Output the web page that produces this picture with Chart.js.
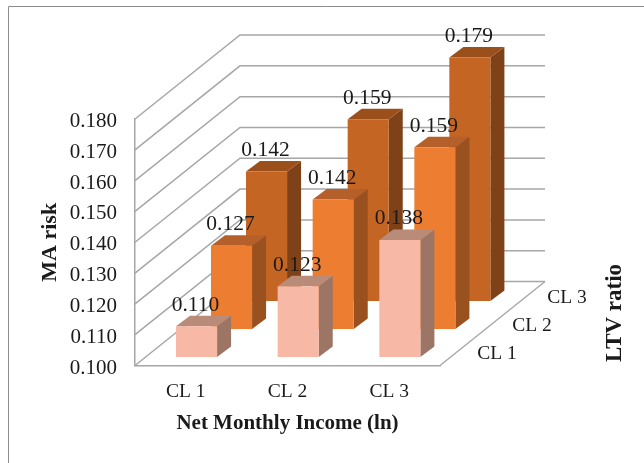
<!DOCTYPE html>
<html>
<head>
<meta charset="utf-8">
<style>html,body{margin:0;padding:0;background:#fff}canvas{display:block}</style>
<script src="https://cdn.jsdelivr.net/npm/chart.js@4/dist/chart.umd.js"></script>
</head>
<body>
<canvas id="c" width="644" height="463"></canvas>
<script>
// Mean MA risk by net monthly income class (x) and LTV ratio class (depth)
const incomeClasses = ['CL 1', 'CL 2', 'CL 3'];
const ltvClasses = ['CL 1', 'CL 2', 'CL 3'];
const ltvCl1 = [0.110, 0.123, 0.138];
const ltvCl2 = [0.127, 0.142, 0.159];
const ltvCl3 = [0.142, 0.159, 0.179];

const serif = '"Liberation Serif", "Times New Roman", serif';
const ink = '#1a1a1a';
const gridGray = '#a6a6a6';

// Oblique projection: how far each depth row shifts and how deep a bar is
const row = { x0: 10.7, y0: -8.5, dx: 35, dy: -28 };
const box = { dx: 14, dy: -10.5 };
const wall = { dx: 105, dy: -84 };
const rowShift = i => ({ x: row.x0 + row.dx * i, y: row.y0 + row.dy * i });

const faces = [
  { front: '#f7b9a6', side: '#9d7565', top: '#b98c7a' },
  { front: '#ed7d31', side: '#9a5120', top: '#b5602a' },
  { front: '#c46524', side: '#7e4118', top: '#9b501c' }
];

const line = (ctx, pts) => {
  ctx.beginPath();
  pts.forEach((p, i) => i ? ctx.lineTo(p[0], p[1]) : ctx.moveTo(p[0], p[1]));
  ctx.stroke();
};
const poly = (ctx, pts, fill) => {
  ctx.fillStyle = fill;
  ctx.beginPath();
  pts.forEach((p, i) => i ? ctx.lineTo(p[0], p[1]) : ctx.moveTo(p[0], p[1]));
  ctx.closePath();
  ctx.fill();
};

const depthChart = {
  id: 'depthChart',
  beforeDraw(chart) {
    const { ctx } = chart;
    // Outer frame, open on the right and at the bottom
    ctx.save();
    ctx.strokeStyle = '#8c8c8c';
    ctx.lineWidth = 1;
    line(ctx, [[8.5, 463], [8.5, 6.5], [644, 6.5]]);
    ctx.restore();
  },
  beforeDatasetsDraw(chart) {
    const { ctx, scales: { x, y } } = chart;
    ctx.save();
    ctx.strokeStyle = gridGray;
    ctx.lineWidth = 1.5;
    // Wall grid: each tick runs back along the side wall, then across the rear wall
    y.ticks.forEach(t => {
      const py = y.getPixelForValue(t.value);
      const ex = x.right + wall.dx;
      line(ctx, [[x.left, py], [x.left + wall.dx, py + wall.dy], [ex, py + wall.dy]]);
    });
    // Right edge of the floor
    line(ctx, [[x.right, y.bottom], [x.right + wall.dx, y.bottom + wall.dy]]);
    ctx.restore();
  },
  beforeDatasetDraw(chart, args) {
    const { ctx } = chart;
    const meta = chart.getDatasetMeta(args.index);
    const s = rowShift(args.index);
    const f = faces[args.index];
    ctx.save();
    ctx.translate(s.x, s.y);
    meta.data.forEach(el => {
      const l = el.x - el.width / 2, r = el.x + el.width / 2;
      poly(ctx, [[r, el.y], [r + box.dx, el.y + box.dy], [r + box.dx, el.base + box.dy], [r, el.base]], f.side);
      poly(ctx, [[l, el.y], [l + box.dx, el.y + box.dy], [r + box.dx, el.y + box.dy], [r, el.y]], f.top);
    });
  },
  afterDatasetDraw(chart) {
    chart.ctx.restore();
  },
  afterDatasetsDraw(chart) {
    const { ctx, scales: { x, y } } = chart;
    ctx.save();
    ctx.fillStyle = ink;
    ctx.textAlign = 'center';
    ctx.textBaseline = 'alphabetic';
    ctx.font = '21.5px ' + serif;
    // Value labels sit above each bar
    chart.data.datasets.forEach((ds, i) => {
      const s = rowShift(i);
      chart.getDatasetMeta(i).data.forEach((el, j) => {
        ctx.fillText(ds.data[j].toFixed(3), el.x + s.x - 1, el.y + s.y - 15.5);
      });
    });
    // Depth axis labels beside the floor edge
    ctx.font = '19.5px ' + serif;
    ltvClasses.forEach((name, i) => {
      ctx.fillText(name, x.right + 57 + row.dx * i, y.bottom - 7 + row.dy * i);
    });
    // Depth axis title
    ctx.translate(621, 313);
    ctx.rotate(-Math.PI / 2);
    ctx.font = 'bold 23px ' + serif;
    ctx.fillText('LTV ratio', 0, 0);
    ctx.restore();
  }
};

new Chart(document.getElementById('c'), {
  type: 'bar',
  data: {
    labels: incomeClasses,
    datasets: [ltvCl1, ltvCl2, ltvCl3].map((values, i) => ({
      label: ltvClasses[i],
      data: values,
      base: 0.1,
      backgroundColor: faces[i].front,
      borderWidth: 0,
      clip: false,
      grouped: false,
      barPercentage: 0.404,
      categoryPercentage: 1
    }))
  },
  options: {
    responsive: false,
    animation: false,
    layout: { padding: { left: 0, right: 204, top: 119, bottom: 0 } },
    plugins: { legend: { display: false }, tooltip: { enabled: false } },
    scales: {
      x: {
        afterFit(s) { s.height = 97.5; },
        grid: { display: false, drawTicks: false },
        border: { display: true, color: gridGray, width: 1.5 },
        ticks: { color: ink, font: { family: serif, size: 19.5 }, padding: 15, maxRotation: 0 },
        title: { display: true, text: 'Net Monthly Income (ln)', color: ink, font: { family: serif, size: 21, weight: 'bold' }, padding: { top: 0, bottom: 27 } }
      },
      y: {
        min: 0.1,
        max: 0.18,
        afterFit(s) { s.width = 135; },
        grid: { display: false, drawTicks: false },
        border: { display: true, color: gridGray, width: 1.5 },
        ticks: {
          stepSize: 0.01,
          color: ink,
          font: { family: serif, size: 21 },
          padding: 18,
          labelOffset: 2.5,
          callback: v => v.toFixed(3)
        },
        title: { display: true, text: 'MA risk', color: ink, font: { family: serif, size: 22, weight: 'bold' }, padding: { top: 37, bottom: 0 } }
      }
    }
  },
  plugins: [depthChart]
});
</script>
</body>
</html>
